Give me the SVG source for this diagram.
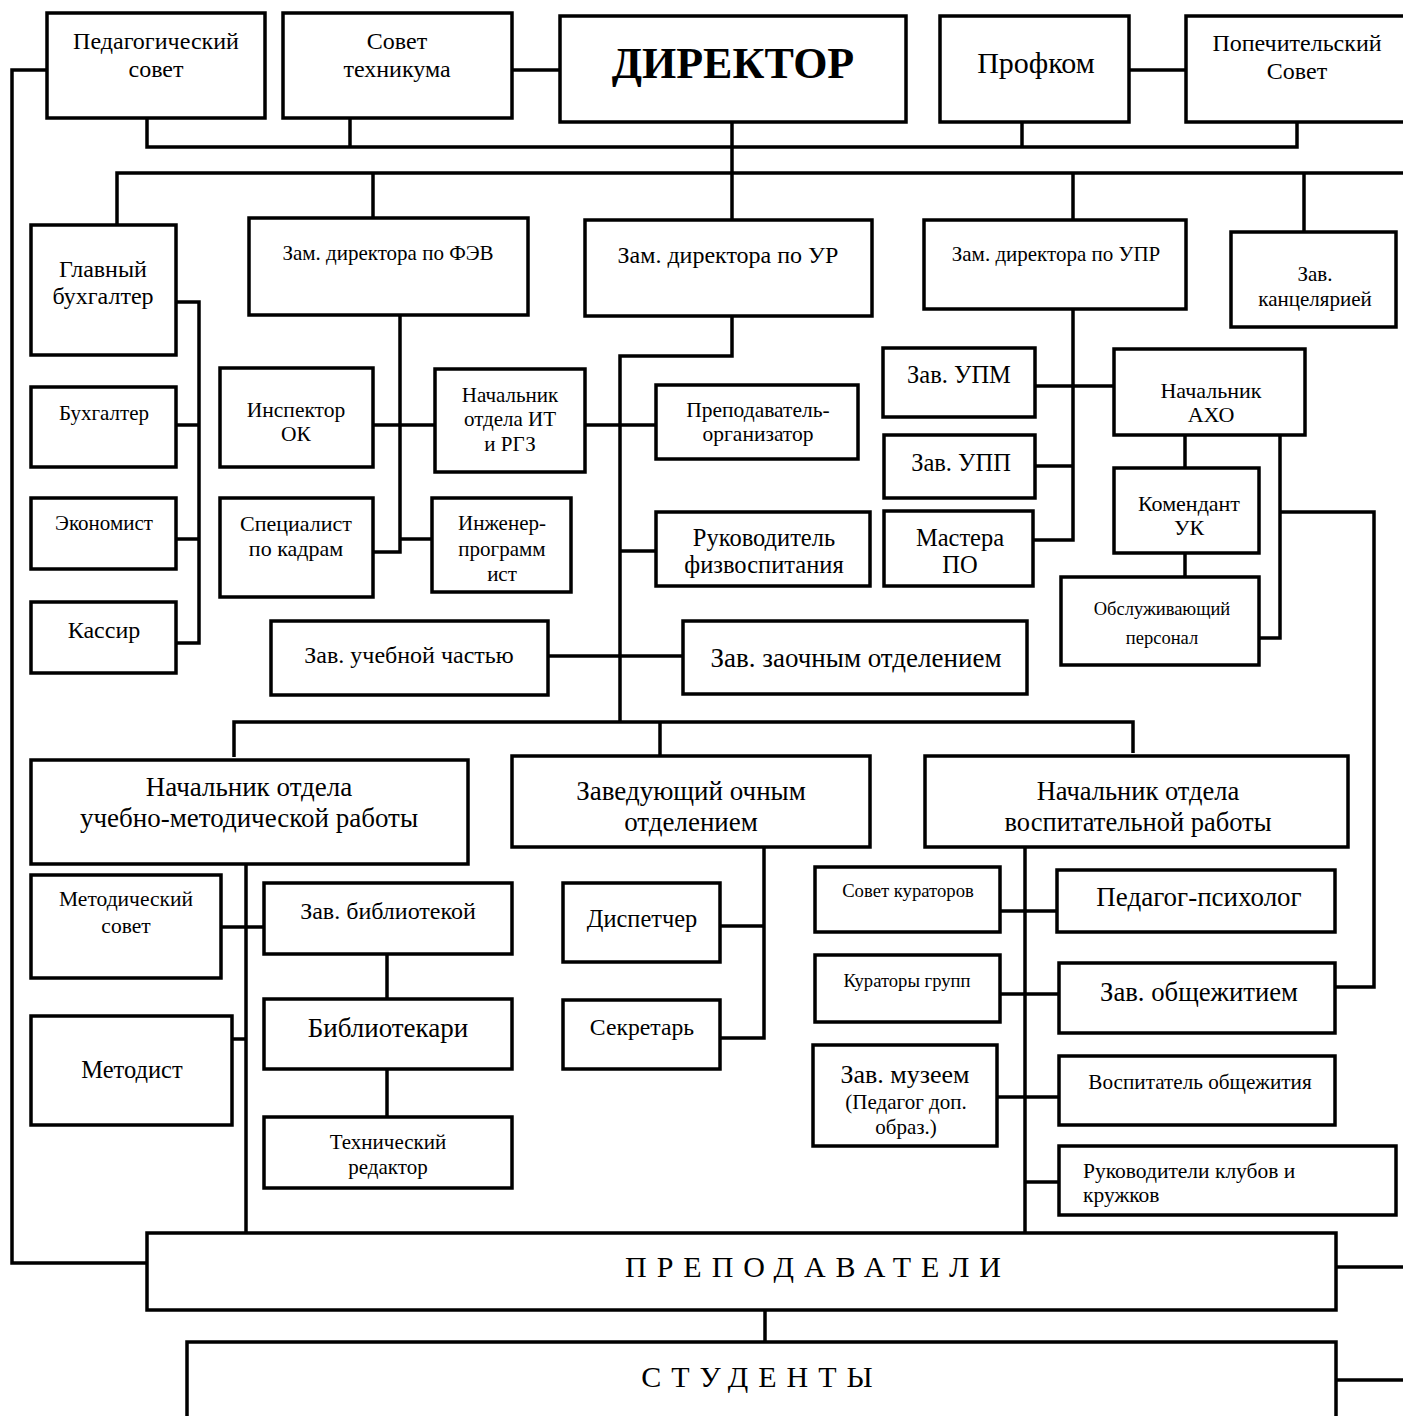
<svg xmlns="http://www.w3.org/2000/svg" width="1403" height="1416" viewBox="0 0 1403 1416">
<style>
rect{fill:#fff;stroke:#000;stroke-width:3.5}
.c path{stroke:#000;stroke-width:3.5;fill:none}
text{font-family:"Liberation Serif","Times New Roman",serif;fill:#000;text-anchor:middle}
</style>
<rect x="0" y="0" width="1403" height="1416" style="stroke:none"/>
<g class="c" id="connectors">
<path d="M47,70 H12 V1263 H147"/>
<path d="M512,70 H560"/>
<path d="M1129,70 H1186"/>
<path d="M147,118 V147 H1297 V122"/>
<path d="M350,118 V147"/>
<path d="M1022,122 V147"/>
<path d="M732,122 V220"/>
<path d="M117,225 V173 H1403"/>
<path d="M373,173 V218"/>
<path d="M1073,173 V220"/>
<path d="M1304,173 V232"/>
<path d="M176,302 H199 V643 H176"/>
<path d="M176,425 H199"/>
<path d="M176,539 H199"/>
<path d="M400,315 V552 H373"/>
<path d="M373,425 H435"/>
<path d="M400,539 H432"/>
<path d="M732,316 V356 H620 V722"/>
<path d="M585,425 H656"/>
<path d="M620,551 H656"/>
<path d="M548,656 H683"/>
<path d="M1073,309 V540 H1033"/>
<path d="M1035,386 H1114"/>
<path d="M1035,466 H1073"/>
<path d="M1185,435 V468"/>
<path d="M1185,553 V577"/>
<path d="M1280,435 V638 H1259"/>
<path d="M1280,512 H1374 V987 H1336"/>
<path d="M234,757 V722 H1133 V753"/>
<path d="M660,722 V755"/>
<path d="M246,864 V1233"/>
<path d="M221,927 H264"/>
<path d="M232,1039 H246"/>
<path d="M387,954 V999"/>
<path d="M387,1069 V1117"/>
<path d="M764,847 V1038 H720"/>
<path d="M720,926 H764"/>
<path d="M1025,847 V1233"/>
<path d="M1000,911 H1057"/>
<path d="M1000,994 H1059"/>
<path d="M997,1097 H1059"/>
<path d="M1025,1182 H1059"/>
<path d="M1336,1267 H1403"/>
<path d="M765,1310 V1342"/>
<path d="M1336,1380 H1403"/>
</g>
<g id="ped-sovet"><rect x="47" y="13" width="218" height="105"/><text x="156" y="49" font-size="24">Педагогический</text><text x="156" y="77" font-size="24">совет</text></g>
<g id="sovet-tech"><rect x="283" y="13" width="229" height="105"/><text x="397" y="49" font-size="24">Совет</text><text x="397" y="77" font-size="24">техникума</text></g>
<g id="director"><rect x="560" y="16" width="346" height="106"/><text x="733" y="78" font-size="44" font-weight="bold">ДИРЕКТОР</text></g>
<g id="profkom"><rect x="940" y="16" width="189" height="106"/><text x="1036" y="73" font-size="30">Профком</text></g>
<g id="popech"><rect x="1186" y="16" width="230" height="106"/><text x="1297" y="51" font-size="24">Попечительский</text><text x="1297" y="79" font-size="24">Совет</text></g>
<g id="glavbuh"><rect x="31" y="225" width="145" height="130"/><text x="103" y="277" font-size="24">Главный</text><text x="103" y="304" font-size="24">бухгалтер</text></g>
<g id="zam-fev"><rect x="249" y="218" width="279" height="97"/><text x="388" y="260" font-size="21">Зам. директора по ФЭВ</text></g>
<g id="zam-ur"><rect x="585" y="220" width="287" height="96"/><text x="728" y="263" font-size="24">Зам. директора по УР</text></g>
<g id="zam-upr"><rect x="924" y="220" width="262" height="89"/><text x="1056" y="261" font-size="21">Зам. директора по УПР</text></g>
<g id="zav-kanc"><rect x="1231" y="232" width="165" height="95"/><text x="1315" y="281" font-size="21">Зав.</text><text x="1315" y="306" font-size="21">канцелярией</text></g>
<g id="buh"><rect x="31" y="387" width="145" height="80"/><text x="104" y="420" font-size="21">Бухгалтер</text></g>
<g id="econ"><rect x="31" y="498" width="145" height="71"/><text x="104" y="530" font-size="21">Экономист</text></g>
<g id="kassir"><rect x="31" y="602" width="145" height="71"/><text x="104" y="638" font-size="24">Кассир</text></g>
<g id="insp-ok"><rect x="220" y="368" width="153" height="99"/><text x="296" y="417" font-size="21.5">Инспектор</text><text x="296" y="441" font-size="21.5">ОК</text></g>
<g id="spec-kadr"><rect x="220" y="498" width="153" height="99"/><text x="296" y="531" font-size="22">Специалист</text><text x="296" y="556" font-size="22">по кадрам</text></g>
<g id="nach-it"><rect x="435" y="369" width="150" height="103"/><text x="510" y="402" font-size="21">Начальник</text><text x="510" y="426" font-size="21">отдела ИТ</text><text x="510" y="451" font-size="21">и РГЗ</text></g>
<g id="inzh-prog"><rect x="432" y="498" width="139" height="94"/><text x="502" y="530" font-size="21">Инженер-</text><text x="502" y="556" font-size="21">программ</text><text x="502" y="581" font-size="21">ист</text></g>
<g id="prep-org"><rect x="656" y="385" width="202" height="74"/><text x="758" y="417" font-size="21.5">Преподаватель-</text><text x="758" y="441" font-size="21.5">организатор</text></g>
<g id="ruk-fiz"><rect x="656" y="512" width="214" height="74"/><text x="764" y="546" font-size="24.5">Руководитель</text><text x="764" y="573" font-size="24.5">физвоспитания</text></g>
<g id="zav-uch"><rect x="271" y="621" width="277" height="74"/><text x="409" y="663" font-size="24">Зав. учебной частью</text></g>
<g id="zav-zaoch"><rect x="683" y="621" width="344" height="73"/><text x="856" y="667" font-size="27">Зав. заочным отделением</text></g>
<g id="zav-upm"><rect x="883" y="348" width="152" height="69"/><text x="959" y="383" font-size="24.5">Зав. УПМ</text></g>
<g id="zav-upp"><rect x="884" y="435" width="151" height="63"/><text x="961" y="471" font-size="24.5">Зав. УПП</text></g>
<g id="mastera"><rect x="884" y="511" width="149" height="75"/><text x="960" y="546" font-size="24.5">Мастера</text><text x="960" y="573" font-size="24.5">ПО</text></g>
<g id="nach-aho"><rect x="1114" y="349" width="191" height="86"/><text x="1211" y="398" font-size="22">Начальник</text><text x="1211" y="422" font-size="22">АХО</text></g>
<g id="komend"><rect x="1114" y="468" width="145" height="85"/><text x="1189" y="511" font-size="22">Комендант</text><text x="1189" y="535" font-size="22">УК</text></g>
<g id="obsl"><rect x="1061" y="577" width="198" height="88"/><text x="1162" y="615" font-size="18.5">Обслуживающий</text><text x="1162" y="644" font-size="18.5">персонал</text></g>
<g id="nach-umr"><rect x="31" y="760" width="437" height="104"/><text x="249" y="796" font-size="27">Начальник отдела</text><text x="249" y="827" font-size="27">учебно-методической работы</text></g>
<g id="zav-ochn"><rect x="512" y="756" width="358" height="91"/><text x="691" y="800" font-size="27">Заведующий очным</text><text x="691" y="831" font-size="27">отделением</text></g>
<g id="nach-vr"><rect x="925" y="756" width="423" height="91"/><text x="1138" y="800" font-size="26.5">Начальник отдела</text><text x="1138" y="831" font-size="26.5">воспитательной работы</text></g>
<g id="met-sovet"><rect x="31" y="875" width="190" height="103"/><text x="126" y="906" font-size="21.5">Методический</text><text x="126" y="933" font-size="21.5">совет</text></g>
<g id="zav-bibl"><rect x="264" y="883" width="248" height="71"/><text x="388" y="919" font-size="24">Зав. библиотекой</text></g>
<g id="bibl"><rect x="264" y="999" width="248" height="70"/><text x="388" y="1037" font-size="27">Библиотекари</text></g>
<g id="tech-red"><rect x="264" y="1117" width="248" height="71"/><text x="388" y="1149" font-size="21">Технический</text><text x="388" y="1174" font-size="21">редактор</text></g>
<g id="metodist"><rect x="31" y="1016" width="201" height="109"/><text x="132" y="1078" font-size="24.5">Методист</text></g>
<g id="dispetcher"><rect x="563" y="883" width="157" height="79"/><text x="642" y="927" font-size="24.4">Диспетчер</text></g>
<g id="sekretar"><rect x="563" y="1000" width="157" height="69"/><text x="642" y="1035" font-size="23.7">Секретарь</text></g>
<g id="sovet-kur"><rect x="815" y="867" width="185" height="65"/><text x="908" y="897" font-size="18.7">Совет кураторов</text></g>
<g id="kur-grupp"><rect x="815" y="955" width="185" height="67"/><text x="907" y="987" font-size="18.6">Кураторы групп</text></g>
<g id="zav-muzei"><rect x="813" y="1045" width="184" height="101"/><text x="905" y="1083" font-size="26">Зав. музеем</text><text x="906" y="1109" font-size="21">(Педагог доп.</text><text x="906" y="1134" font-size="21">образ.)</text></g>
<g id="ped-psih"><rect x="1057" y="870" width="278" height="62"/><text x="1199" y="906" font-size="27">Педагог-психолог</text></g>
<g id="zav-obsch"><rect x="1059" y="963" width="276" height="70"/><text x="1199" y="1001" font-size="26.7">Зав. общежитием</text></g>
<g id="vosp-obsch"><rect x="1059" y="1056" width="276" height="69"/><text x="1200" y="1089" font-size="21.2">Воспитатель общежития</text></g>
<g id="ruk-klub"><rect x="1059" y="1146" width="337" height="69"/><text x="1083" y="1178" font-size="21.5" style="text-anchor:start">Руководители клубов и</text><text x="1083" y="1202" font-size="21.5" style="text-anchor:start">кружков</text></g>
<g id="prepod"><rect x="147" y="1233" width="1189" height="77"/><text x="818" y="1277" font-size="30" letter-spacing="10">ПРЕПОДАВАТЕЛИ</text></g>
<g id="studenty"><rect x="187" y="1342" width="1149" height="110"/><text x="762" y="1387" font-size="30" letter-spacing="10">СТУДЕНТЫ</text></g>
</svg>
